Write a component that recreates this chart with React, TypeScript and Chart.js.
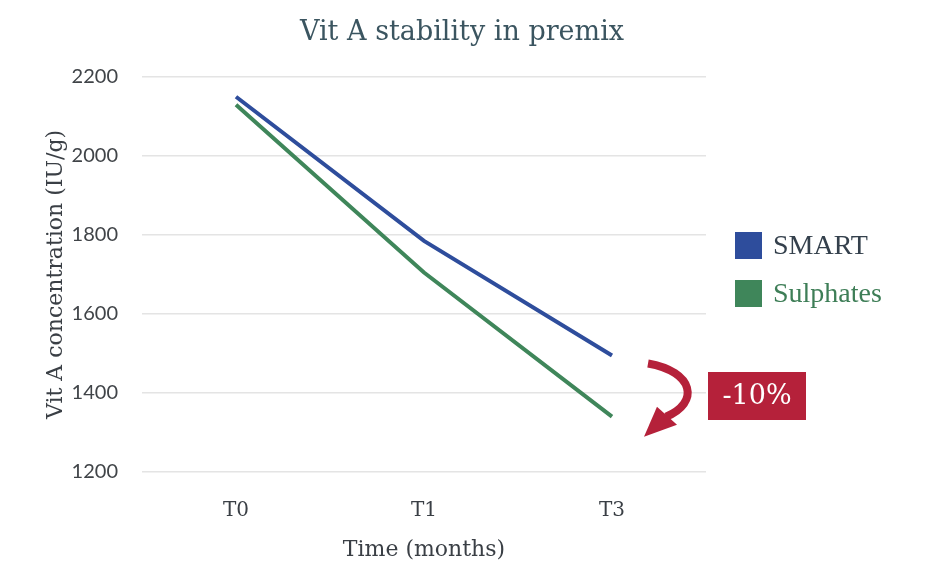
import { useEffect, useRef } from "react"
import { Chart, registerables } from "chart.js"

Chart.register(...registerables)

const categories = ["T0", "T1", "T3"]
const smart = [2150, 1785, 1495]
const sulphates = [2130, 1705, 1340]
const yTicks = [1200, 1400, 1600, 1800, 2000, 2200]
const changeLabel = "-10%"

const BLUE = "#2E4D9C"
const GREEN = "#3F865A"
const RED = "#B5213A"
const SERIF = "'DejaVu Serif', serif"
const SERIF_NARROW = "'Liberation Serif', serif"
const TEXT = "#3a3f45"

// curved arrow + "-10%" badge next to the last points
const dropArrow = {
  id: "dropArrow",
  afterDraw(chart: Chart) {
    const { ctx, chartArea, scales } = chart
    const x = scales.x.getPixelForValue(2)
    const yTop = scales.y.getPixelForValue(smart[2])
    const yBot = scales.y.getPixelForValue(sulphates[2])
    const x0 = x + 36
    ctx.save()
    ctx.strokeStyle = RED
    ctx.fillStyle = RED
    ctx.lineWidth = 8
    ctx.lineCap = "butt"
    ctx.beginPath()
    ctx.moveTo(x0, yTop + 8)
    ctx.bezierCurveTo(x0 + 46, yTop + 16, x0 + 52, yBot - 14, x0 + 18, yBot)
    ctx.stroke()
    // arrow head
    ctx.beginPath()
    ctx.moveTo(x0 - 4, yBot + 20)
    ctx.lineTo(x0 + 9, yBot - 10)
    ctx.lineTo(x0 + 29, yBot + 8)
    ctx.closePath()
    ctx.fill()

    const bx = chartArea.right + 2
    const by = scales.y.getPixelForValue(1400) - 21
    ctx.fillRect(bx, by, 98, 48)
    ctx.fillStyle = "#ffffff"
    ctx.font = `27px ${SERIF}`
    ctx.textAlign = "center"
    ctx.textBaseline = "middle"
    ctx.fillText(changeLabel, bx + 49, by + 25)
    ctx.restore()
  },
}

export default function App() {
  const chartRef = useRef<HTMLCanvasElement>(null)
  const chartInstance = useRef<Chart | null>(null)

  useEffect(() => {
    document.body.style.margin = "0"
    const canvas = chartRef.current
    if (!canvas) return
    const ctx = canvas.getContext("2d")
    if (!ctx) return

    if (chartInstance.current) {
      chartInstance.current.destroy()
    }

    chartInstance.current = new Chart(ctx, {
      type: "line",
      data: {
        labels: categories,
        datasets: [
          {
            label: "SMART",
            data: smart,
            borderColor: BLUE,
            backgroundColor: BLUE,
            borderWidth: 4,
            pointRadius: 0,
            tension: 0,
          },
          {
            label: "Sulphates",
            data: sulphates,
            borderColor: GREEN,
            backgroundColor: GREEN,
            borderWidth: 4,
            pointRadius: 0,
            tension: 0,
          },
        ],
      },
      options: {
        responsive: true,
        maintainAspectRatio: false,
        animation: false,
        layout: {
          padding: { left: 39, right: 238, top: 77, bottom: 11 },
        },
        plugins: {
          legend: { display: false },
          tooltip: { enabled: false },
          title: { display: false },
        },
        scales: {
          x: {
            offset: true,
            grid: { display: false, drawTicks: false },
            border: { display: false },
            afterFit: (axis) => {
              axis.height = 95
            },
            ticks: {
              color: TEXT,
              font: { family: SERIF, size: 20 },
              padding: 27,
            },
            title: {
              display: true,
              text: "Time (months)",
              color: TEXT,
              font: { family: SERIF, size: 22 },
              padding: { top: 0 },
            },
          },
          y: {
            min: 1200,
            max: 2200,
            afterBuildTicks: (axis) => {
              axis.ticks = yTicks.map((v) => ({ value: v }))
            },
            afterFit: (axis) => {
              axis.width = 103
            },
            grid: { color: "#e4e4e4", lineWidth: 1.5, drawTicks: false },
            border: { display: false },
            ticks: {
              color: "#404448",
              font: { family: "Lato, 'Noto Sans', sans-serif", size: 20 },
              padding: 24,
              callback: (v) => String(v),
            },
            title: {
              display: true,
              text: "Vit A concentration (IU/g)",
              color: TEXT,
              font: { family: SERIF, size: 22 },
              padding: { bottom: 0 },
            },
          },
        },
      },
      plugins: [dropArrow],
    })

    return () => {
      if (chartInstance.current) {
        chartInstance.current.destroy()
        chartInstance.current = null
      }
    }
  }, [])

  return (
    <div style={{ position: "relative", width: 944, height: 578, background: "#fff" }}>
      <canvas ref={chartRef}></canvas>
      <div
        style={{
          position: "absolute",
          left: 262,
          width: 400,
          top: 15,
          textAlign: "center",
          fontFamily: SERIF,
          fontSize: 27,
          color: "#3B5560",
        }}
      >
        Vit A stability in premix
      </div>
      <div style={{ position: "absolute", left: 735, top: 230, fontFamily: SERIF_NARROW, fontSize: 28 }}>
        <div style={{ display: "flex", alignItems: "center", height: 30, color: "#34404c" }}>
          <span style={{ width: 27, height: 27, background: BLUE, marginRight: 11 }} />
          SMART
        </div>
        <div style={{ display: "flex", alignItems: "center", height: 30, marginTop: 18, color: "#3E7E57" }}>
          <span style={{ width: 27, height: 27, background: GREEN, marginRight: 11 }} />
          Sulphates
        </div>
      </div>
    </div>
  )
}
